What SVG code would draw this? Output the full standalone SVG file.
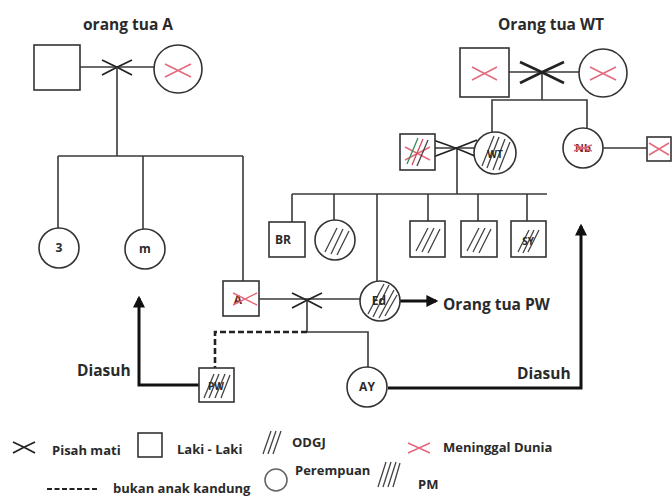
<svg xmlns="http://www.w3.org/2000/svg" width="672" height="496" viewBox="0 0 672 496">
<defs>
<style>
.ln{fill:none;stroke:#3a3a3a;stroke-width:1.6}
.th{fill:none;stroke:#111;stroke-width:3}
.dash{fill:none;stroke:#222;stroke-width:2.6;stroke-dasharray:6 3}
.sep{fill:none;stroke:#222;stroke-width:1.8}
.nd{fill:#fff;stroke:#333;stroke-width:1.6}
.rx{fill:none;stroke:#e26a7c;stroke-width:1.5}
.ht{fill:none;stroke:#444;stroke-width:1.3}
.t{font-family:"Open Sans","Liberation Sans",sans-serif;font-weight:700;fill:#2a2a2a}
.ti{font-size:15.5px}
.lg{font-size:13px}
.nt{font-size:12px;text-anchor:middle}
</style>
<marker id="ah" viewBox="0 0 10 10" refX="8" refY="5" markerWidth="4" markerHeight="4" orient="auto">
<path d="M0,0 L10,5 L0,10 z" fill="#111"/>
</marker>
</defs>
<rect width="672" height="496" fill="#fff"/>

<text class="t ti" x="83" y="30">orang tua A</text>
<text class="t ti" x="498" y="30">Orang tua WT</text>

<g id="connectors">
<path class="ln" d="M80,67 H154"/>
<path class="sep" d="M102,60 Q117,67 132,75 M102,75 Q117,67 132,60"/>
<path class="ln" d="M117,67 V156 M58,156 H243 M58,156 V228 M143,156 V229 M243,156 V281"/>
<path class="ln" d="M259,299 H360"/>
<path class="sep" d="M292,293 Q307,300 322,308 M292,308 Q307,300 322,293"/>
<path class="ln" d="M307,300 V332 H368 V367"/>
<path class="dash" d="M307,332 H215 V368"/>
<path class="th" d="M199,385 H139 V298" marker-end="url(#ah)"/>
<path class="th" d="M388,388 H581 V226" marker-end="url(#ah)"/>
<path class="th" d="M400,301 H436" marker-end="url(#ah)"/>
<path class="ln" d="M377,281 V194 M292,194 H547 M292,194 V222 M334,194 V220 M428,194 V221 M478,194 V221 M527,194 V221"/>
<path class="ln" d="M435,148 H475 M457,148 V194"/>
<path class="sep" d="M433,140 Q457,148 477,157 M433,157 Q457,148 477,140"/>
<path class="ln" d="M492,132 V100 H587 V128 M603,148 H647"/>
<path class="ln" d="M509,72 H579 M542,72 V100"/>
<path class="sep" style="stroke-width:2.6" d="M520,62 Q542,72 564,83 M520,83 Q542,72 564,62"/>
</g>

<g id="orangtuaA-ayah"><rect class="nd" x="34" y="45" width="46" height="45"/></g>
<g id="orangtuaA-ibu"><circle class="nd" cx="178" cy="69" r="24"/><path class="rx" d="M165,64 L191,77 M165,77 L191,64"/></g>
<g id="anak-3"><circle class="nd" cx="59" cy="248" r="20"/><text class="t nt" x="59" y="252">3</text></g>
<g id="anak-m"><circle class="nd" cx="145" cy="249" r="20"/><text class="t nt" x="145" y="253">m</text></g>
<g id="A"><rect class="nd" x="223" y="281" width="36" height="35"/><text class="t nt" x="238" y="304" style="fill:#6a2a2a">A</text><path class="rx" d="M233,293 L257,305 M233,305 L257,293"/></g>
<g id="Ed"><circle class="nd" cx="380" cy="301" r="20"/><path class="ht" d="M368,314 L384,284 M373,317 L389,285 M379,318 L394,290 M385,316 L397,295"/><text class="t nt" x="379" y="305">Ed</text></g>
<g id="AY"><circle class="nd" cx="367" cy="387" r="20"/><text class="t nt" x="367" y="391">AY</text></g>
<g id="PW"><rect class="nd" x="199" y="368" width="35" height="34"/><path class="ht" d="M204,398 L214,374 M209,398 L219,374 M215,398 L225,374 M221,398 L230,375"/><text class="t nt" x="216" y="390" style="font-size:10px">PW</text></g>
<g id="BR"><rect class="nd" x="269" y="222" width="36" height="35"/><text class="t nt" x="283" y="244">BR</text></g>
<g id="anak-p"><circle class="nd" cx="335" cy="240" r="20"/><path class="ht" d="M325,252 L337,228 M331,254 L343,229 M337,255 L349,231"/></g>
<g id="anak-l1"><rect class="nd" x="410" y="221" width="35" height="36"/><path class="ht" d="M416,251 L428,228 M422,252 L434,228 M428,253 L440,229"/></g>
<g id="anak-l2"><rect class="nd" x="461" y="221" width="36" height="36"/><path class="ht" d="M467,251 L479,228 M473,252 L485,228 M479,253 L491,229"/></g>
<g id="SY"><rect class="nd" x="511" y="221" width="35" height="36"/><path class="ht" d="M518,252 L529,230 M523,253 L534,230 M528,252 L539,230"/><text class="t nt" x="528" y="245" style="font-size:10px">SY</text></g>
<g id="WT-pasangan"><rect class="nd" x="400" y="134" width="35" height="36"/><path class="rx" d="M405,147 L430,160 M405,160 L430,147"/><path class="ht" d="M407,164 L418,138" style="stroke:#3a8a5a"/><path class="ht" d="M412,165 L423,139" style="stroke:#d04a5a"/><path class="ht" d="M417,166 L428,140"/></g>
<g id="WT"><circle class="nd" cx="495" cy="153" r="21"/><path class="ht" d="M482,166 L494,136 M487,168 L499,137 M493,170 L505,139 M499,170 L510,142"/><text class="t nt" x="495" y="158" style="font-size:10px">WT</text></g>
<g id="Nb"><circle class="nd" cx="583" cy="148" r="20"/><text class="t nt" x="583" y="152" style="fill:#7a2424;font-size:11px">Nb</text><path class="rx" d="M574,145 L592,151 M574,151 L592,145"/></g>
<g id="Nb-pasangan"><rect class="nd" x="647" y="137" width="24" height="24"/><path class="rx" d="M649,143 L669,155 M649,155 L669,143"/></g>
<g id="orangtuaWT-ayah"><rect class="nd" x="460" y="48" width="49" height="49"/><path class="rx" d="M472,67 L497,80 M472,80 L497,67"/></g>
<g id="orangtuaWT-ibu"><circle class="nd" cx="603" cy="73" r="24"/><path class="rx" d="M590,67 L616,80 M590,80 L616,67"/></g>

<text class="t ti" x="443" y="310">Orang tua PW</text>
<text class="t ti" x="77" y="376">Diasuh</text>
<text class="t ti" x="517" y="379">Diasuh</text>

<g id="legend">
<path class="sep" d="M13,442 Q24,447 35,453 M13,453 Q24,447 35,442"/>
<text class="t lg" x="52" y="455">Pisah mati</text>
<rect class="nd" x="138" y="433" width="24" height="24"/>
<text class="t lg" x="177" y="454">Laki - Laki</text>
<path class="ht" d="M263,454 L271,431 M268,454 L276,431 M273,454 L281,431"/>
<text class="t lg" x="292" y="447">ODGJ</text>
<path class="rx" d="M408,443 L430,453 M408,453 L430,443"/>
<text class="t lg" x="443" y="452">Meninggal Dunia</text>
<path class="sep" style="stroke-dasharray:5 2.5;stroke-width:2" d="M47,489 H97"/>
<text class="t lg" x="113" y="493">bukan anak kandung</text>
<circle class="nd" cx="276" cy="480" r="11" style="stroke:#666"/>
<text class="t lg" x="295" y="475">Perempuan</text>
<path class="ht" d="M378,487 L386,462 M383,487 L391,462 M388,487 L396,462 M393,487 L400,463"/>
<text class="t lg" x="418" y="489">PM</text>
</g>
</svg>
